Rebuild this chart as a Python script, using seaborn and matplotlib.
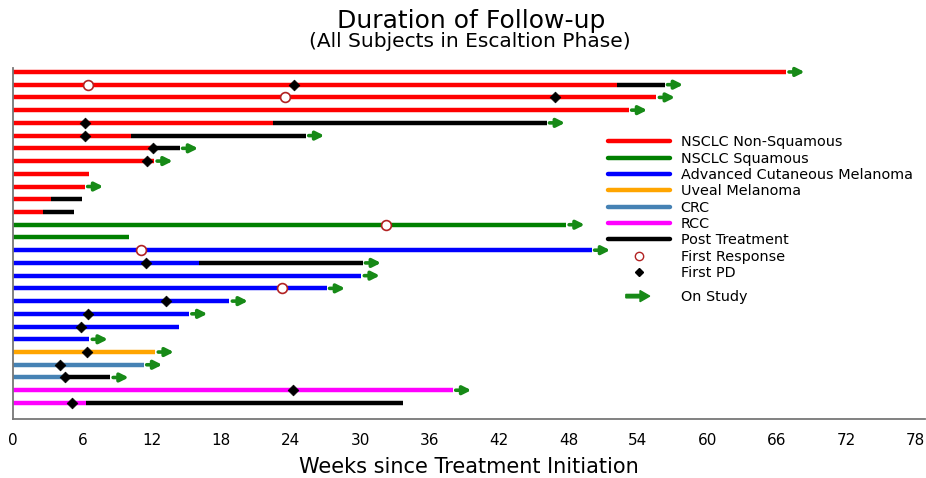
import numpy as np
import pandas as pd
import seaborn as sns
import matplotlib.pyplot as plt
import matplotlib.patches as mpatches
from matplotlib.lines import Line2D
from matplotlib.legend_handler import HandlerPatch

sns.set_style("white")
plt.rcParams['font.family'] = ['DejaVu Sans']
plt.rcParams['text.color'] = 'black'
plt.rcParams['axes.labelcolor'] = 'black'
plt.rcParams['xtick.color'] = 'black'

# one row per subject, top to bottom
groups = (['NSCLC Non-Squamous'] * 12 + ['NSCLC Squamous'] * 2 +
          ['Advanced Cutaneous Melanoma'] * 8 + ['Uveal Melanoma'] +
          ['CRC'] * 2 + ['RCC'] * 2)
treat_end = [66.8, 52.2, 55.6, 53.2, 22.5, 10.2, 12.1, 12.2, 6.6, 6.2, 3.3, 2.6,
             47.8, 10.0,
             50.0, 16.1, 30.1, 27.1, 18.7, 15.2, 14.3, 6.6,
             12.3,
             11.3, 4.5,
             38.0, 6.3]
post_end = [np.nan, 56.3, np.nan, np.nan, 46.1, 25.3, 14.4, np.nan, np.nan, np.nan, 6.0, 5.3,
            np.nan, np.nan,
            np.nan, 30.2, np.nan, np.nan, np.nan, np.nan, np.nan, np.nan,
            np.nan,
            np.nan, 8.4,
            np.nan, 33.7]
first_resp = [np.nan, 6.5, 23.5, np.nan, np.nan, np.nan, np.nan, np.nan, np.nan, np.nan, np.nan, np.nan,
              32.2, np.nan,
              11.1, np.nan, np.nan, 23.2, np.nan, np.nan, np.nan, np.nan,
              np.nan,
              np.nan, np.nan,
              np.nan, np.nan]
first_pd = [np.nan, 24.3, 46.8, np.nan, 6.2, 6.2, 12.1, 11.6, np.nan, np.nan, np.nan, np.nan,
            np.nan, np.nan,
            np.nan, 11.5, np.nan, np.nan, 13.2, 6.5, 5.9, np.nan,
            6.4,
            4.1, 4.5,
            24.2, 5.1]
on_study = [1, 1, 1, 1, 1, 1, 1, 1, 0, 1, 0, 0,
            1, 0,
            1, 1, 1, 1, 1, 1, 0, 1,
            1,
            1, 1,
            1, 0]

palette = {
    'NSCLC Non-Squamous': '#ff0000',
    'NSCLC Squamous': '#008000',
    'Advanced Cutaneous Melanoma': '#0000ff',
    'Uveal Melanoma': '#ffa500',
    'CRC': '#4682b4',
    'RCC': '#ff00ff',
}

df = pd.DataFrame({'group': groups, 'treat_end': treat_end, 'post_end': post_end,
                   'first_resp': first_resp, 'first_pd': first_pd, 'on_study': on_study})
df['row'] = np.arange(len(df))
df['last'] = df[['treat_end', 'post_end']].max(axis=1)

fig = plt.figure(figsize=(9.26, 4.78), dpi=100)
ax = fig.add_axes([13 / 926, 1 - 419 / 478, 912 / 926, 351 / 478])

lw = 3.2
for _, r in df.iterrows():
    ax.hlines(r['row'], 0, r['treat_end'], color=palette[r['group']], lw=lw, zorder=2)
    if not np.isnan(r['post_end']):
        ax.hlines(r['row'], r['treat_end'], r['post_end'], color='black', lw=lw, zorder=2)
    if r['on_study']:
        x0 = r['last'] + 0.25
        ax.annotate('', xy=(x0 + 1.35, r['row']), xytext=(x0, r['row']),
                    arrowprops=dict(arrowstyle='-|>', color='#178a17', lw=2.6,
                                    mutation_scale=12, shrinkA=0, shrinkB=0))

sns.scatterplot(data=df.dropna(subset=['first_resp']), x='first_resp', y='row', marker='o',
                s=50, facecolor='white', edgecolor='#b22222', linewidth=1.2,
                ax=ax, legend=False, zorder=5)
sns.scatterplot(data=df.dropna(subset=['first_pd']), x='first_pd', y='row', marker='D',
                s=30, color='black', edgecolor='black', linewidth=0.5,
                ax=ax, legend=False, zorder=5)

ax.set_xlim(0, 78.8)
ax.set_ylim(len(df) - 1 + 1.26, -0.31)
ax.set_yticks([])
ax.set_xticks(np.arange(0, 79, 6))
ax.tick_params(axis='x', length=6, width=1, color='#555555', labelsize=11, pad=4)
ax.set_ylabel('')
ax.set_xlabel('Weeks since Treatment Initiation', fontsize=15, labelpad=6.5)
for s in ['top', 'right']:
    ax.spines[s].set_visible(False)
for s in ['left', 'bottom']:
    ax.spines[s].set_color('#777777')
    ax.spines[s].set_linewidth(1.3)

fig.text(0.509, 0.956, 'Duration of Follow-up', ha='center', va='center', fontsize=18)
fig.text(0.507, 0.913, '(All Subjects in Escaltion Phase)', ha='center', va='center', fontsize=14.5)

# legend
fs = 10.4
handles = [Line2D([], [], color=c, lw=lw) for c in palette.values()]
labels = list(palette.keys())
handles += [Line2D([], [], color='black', lw=lw),
            Line2D([], [], ls='', marker='o', markersize=6, markerfacecolor='white',
                   markeredgecolor='#b22222'),
            Line2D([], [], ls='', marker='D', markersize=4, color='black')]
labels += ['Post Treatment', 'First Response', 'First PD']
leg1 = ax.legend(handles, labels, loc='upper left', bbox_to_anchor=(0.652, 0.808),
                 frameon=False, fontsize=fs, handlelength=4.35, handletextpad=0.7,
                 labelspacing=0.16, borderpad=0, borderaxespad=0)
ax.add_artist(leg1)


def make_arrow(legend, orig_handle, xdescent, ydescent, width, height, fontsize):
    return mpatches.FancyArrow(width * 0.29, height / 2 - ydescent, width * 0.38, 0,
                               width=2.5, head_width=8, head_length=7,
                               length_includes_head=True, color='#178a17')


study = mpatches.Patch(color='#178a17')
ax.legend([study], ['On Study'], loc='upper left', bbox_to_anchor=(0.652, 0.367),
          frameon=False, fontsize=fs, handlelength=4.35, handletextpad=0.7,
          borderpad=0, borderaxespad=0,
          handler_map={mpatches.Patch: HandlerPatch(patch_func=make_arrow)})

plt.savefig('out.png')
plt.close()
